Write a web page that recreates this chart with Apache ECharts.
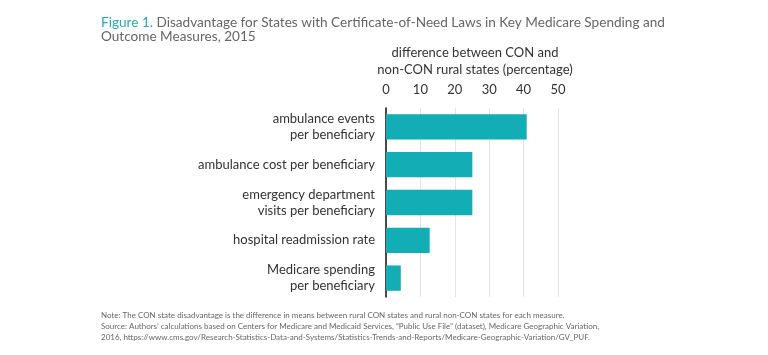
<!DOCTYPE html>
<html><head><meta charset="utf-8">
<script src="https://cdn.jsdelivr.net/npm/echarts@6/dist/echarts.min.js"></script>
<style>html,body{margin:0;padding:0;background:#fff}#c{width:768px;height:355px}</style>
</head><body><div id="c"></div>
<script>
const categories = [
  'ambulance events\nper beneficiary',
  'ambulance cost per beneficiary',
  'emergency department\nvisits per beneficiary',
  'hospital readmission rate',
  'Medicare spending\nper beneficiary'
];
const values = [40.9, 25.1, 25.1, 12.7, 4.3];
const xTicks = [0, 10, 20, 30, 40, 50];

const FONT = 'Lato, "Open Sans", sans-serif';
const chart = echarts.init(document.getElementById('c'));
chart.setOption({
  animation: false,
  textStyle: { fontFamily: FONT },
  title: { show: false },
  grid: { left: 386, right: 210, top: 108, bottom: 58 },
  xAxis: {
    type: 'value', position: 'top', min: 0, max: 50, interval: 10,
    name: 'difference between CON and\nnon-CON rural states (percentage)',
    nameLocation: 'middle', nameGap: 29,
    nameTextStyle: { color: '#333', fontSize: 13, lineHeight: 17, fontFamily: FONT, padding: [0, 0, 0, 6] },
    axisLine: { show: false }, axisTick: { show: false },
    axisLabel: { color: '#333', fontSize: 13, margin: 12, fontFamily: FONT,
      formatter: v => xTicks.includes(v) ? String(v) : '' },
    splitLine: { show: true, lineStyle: { color: '#e4e4e4', width: 1 } }
  },
  yAxis: {
    type: 'category', inverse: true, data: categories,
    axisLine: { show: true, lineStyle: { color: '#111', width: 1.5 } },
    axisTick: { show: false },
    axisLabel: { color: '#333', fontSize: 13, margin: 11, lineHeight: 16, fontFamily: FONT, align: 'right' }
  },
  series: [{
    type: 'bar', data: values, barWidth: '67%',
    itemStyle: { color: '#13adb6' }
  }],
  graphic: [{
    type: 'text', left: 101, top: 16,
    style: {
      rich: {
        a: { fill: '#2aa9b3', fontSize: 13.6, fontFamily: FONT, lineHeight: 14 },
        b: { fill: '#666666', fontSize: 13.6, fontFamily: FONT, lineHeight: 14 }
      },
      text: '{a|Figure 1.} {b|Disadvantage for States with Certificate-of-Need Laws in Key Medicare Spending and}\n{b|Outcome Measures, 2015}',
      fontSize: 13.6, lineHeight: 14, fontFamily: FONT
    }
  }, {
    type: 'text', left: 101, top: 310,
    style: {
      text: 'Note: The CON state disadvantage is the difference in means between rural CON states and rural non-CON states for each measure.\nSource: Authors\u2019 calculations based on Centers for Medicare and Medicaid Services, \u201cPublic Use File\u201d (dataset), Medicare Geographic Variation,\n2016, https://www.cms.gov/Research-Statistics-Data-and-Systems/Statistics-Trends-and-Reports/Medicare-Geographic-Variation/GV_PUF.',
      fill: '#666', fontSize: 8, lineHeight: 10.8, fontFamily: FONT
    }
  }]
});
</script></body></html>
